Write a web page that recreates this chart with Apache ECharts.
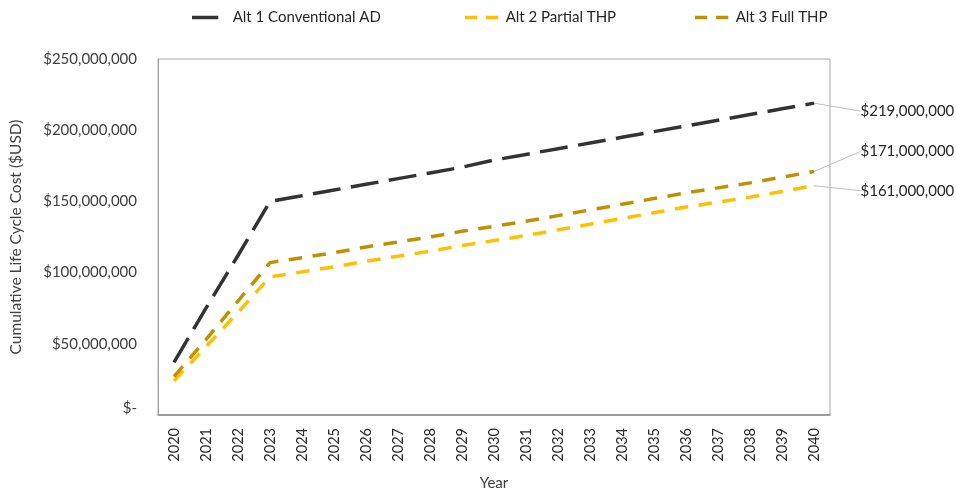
<!DOCTYPE html>
<html>
<head>
<meta charset="utf-8">
<script src="https://cdn.jsdelivr.net/npm/echarts@6/dist/echarts.min.js"></script>
<style>
  html, body { margin: 0; padding: 0; background: #ffffff; }
  #chart { width: 956px; height: 494px; }
</style>
</head>
<body>
<div id="chart"></div>
<script>
// Cumulative life cycle cost of three digestion alternatives, 2020-2040 (USD)
const years = ['2020','2021','2022','2023','2024','2025','2026','2027','2028','2029','2030',
               '2031','2032','2033','2034','2035','2036','2037','2038','2039','2040'];

const alt1Conventional = [37000000, 75000000, 112000000, 150000000, 154000000, 158000000, 162000000,
  166000000, 170000000, 174000000, 179000000, 183000000, 187000000, 191000000, 195000000,
  199000000, 203000000, 207000000, 211000000, 215000000, 219000000];

const alt2Partial = [24000000, 48000000, 72000000, 97000000, 100500000, 104000000, 108000000,
  111500000, 115000000, 119000000, 122500000, 126000000, 130000000, 134000000, 138000000,
  142000000, 146000000, 149500000, 153000000, 157000000, 161000000];

const alt3Full = [27000000, 53000000, 80000000, 107000000, 110500000, 114000000, 118000000,
  121500000, 125000000, 129000000, 132500000, 136000000, 140000000, 144000000, 148000000,
  152000000, 156000000, 159500000, 163000000, 167000000, 171000000];

const seriesNames = ['Alt 1 Conventional AD', 'Alt 2 Partial THP', 'Alt 3 Full THP'];
const yTicks = { min: 0, max: 250000000, interval: 50000000 };

const FONT = 'Lato, "Liberation Sans", sans-serif';

// Legend swatches: one long dash, or two short dashes
const ICON_LONG = 'path://M0,0h30v4h-30z M38,0L38,0.01';
const ICON_SHORT = 'path://M0,0h14v4h-14z M24,0h14v4h-14z';

function money(v) {
  return '$' + Math.round(v).toString().replace(/\B(?=(\d{3})+(?!\d))/g, ',');
}

// Attach a callout label with a grey leader line to the final point only
function withEndLabel(values) {
  return values.map(function (v, i) {
    if (i !== values.length - 1) return v;
    return {
      value: v,
      symbol: 'circle',
      symbolSize: 1,
      label: {
        show: true,
        position: 'right',
        distance: 4,
        formatter: function (p) { return money(p.value); },
        color: '#262626',
        fontFamily: FONT,
        fontSize: 15
      },
      labelLine: {
        show: true,
        smooth: 0.3,
        lineStyle: { color: '#bfbfbf', width: 1 }
      }
    };
  });
}

function makeSeries(name, values, color, dash, dy) {
  return {
    name: name,
    type: 'line',
    data: withEndLabel(values),
    symbol: 'none',
    showSymbol: true,
    lineStyle: { color: color, width: 3.5, type: dash, cap: 'butt' },
    itemStyle: { color: color },
    labelLayout: { dx: 42, dy: dy },
    emphasis: { disabled: true },
    animation: false,
    z: 3
  };
}

function makeLegend(name, icon, left) {
  return {
    top: 10,
    left: left,
    padding: 0,
    itemWidth: 38,
    itemHeight: 3.5,
    icon: icon,
    textStyle: { fontFamily: FONT, fontSize: 15, color: '#262626' },
    data: [name]
  };
}

const chart = echarts.init(document.getElementById('chart'), null, { renderer: 'canvas' });

chart.setOption({
  backgroundColor: '#ffffff',
  animation: false,
  legend: [
    makeLegend(seriesNames[0], ICON_LONG, 192),
    makeLegend(seriesNames[1], ICON_SHORT, 465),
    makeLegend(seriesNames[2], ICON_SHORT, 695)
  ],
  grid: {
    left: 158, right: 126, top: 59, bottom: 79,
    show: true,
    borderColor: '#a6a6a6',
    borderWidth: 1,
    containLabel: false,
    outerBoundsMode: 'none'
  },
  xAxis: {
    type: 'category',
    data: years,
    boundaryGap: true,
    name: 'Year',
    nameLocation: 'middle',
    nameGap: 61,
    nameTextStyle: { fontFamily: FONT, fontSize: 15, color: '#404040' },
    axisLine: { show: true, lineStyle: { color: '#8c8c8c', width: 1.5 } },
    axisTick: { show: false },
    axisLabel: {
      rotate: 90,
      margin: 13,
      interval: 0,
      fontFamily: FONT,
      fontSize: 14.5,
      color: '#262626'
    },
    splitLine: { show: false }
  },
  yAxis: {
    type: 'value',
    min: yTicks.min,
    max: yTicks.max,
    interval: yTicks.interval,
    name: 'Cumulative Life Cycle Cost ($USD)',
    nameLocation: 'middle',
    nameGap: 134,
    nameTextStyle: { fontFamily: FONT, fontSize: 15.5, color: '#404040' },
    axisLine: { show: true, lineStyle: { color: '#a6a6a6' } },
    axisTick: { show: false },
    splitLine: { show: false },
    axisLabel: {
      margin: 21,
      fontFamily: FONT,
      fontSize: 15,
      color: '#404040',
      formatter: function (v) { return v === 0 ? '{z|$-}' : money(v); },
      rich: { z: { fontFamily: FONT, fontSize: 15, color: '#404040', padding: [0, 0, 14, 0] } }
    }
  },
  series: [
    makeSeries(seriesNames[0], alt1Conventional, '#333333', [28, 10.5], 8),
    makeSeries(seriesNames[1], alt2Partial, '#FFC000', [13.5, 10.5], 5),
    makeSeries(seriesNames[2], alt3Full, '#BF9000', [13.5, 10.5], -20)
  ]
});
</script>
</body>
</html>
